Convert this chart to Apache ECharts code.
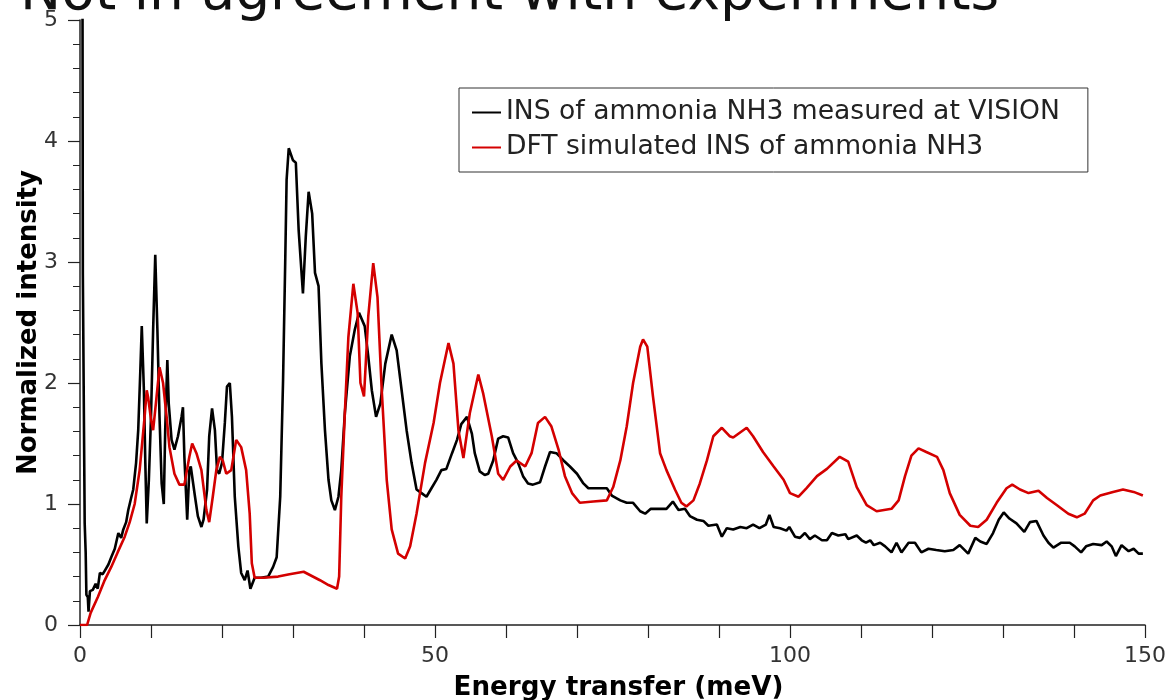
<!DOCTYPE html>
<html>
<head>
<meta charset="utf-8">
<script src="https://cdn.jsdelivr.net/npm/echarts@6/dist/echarts.min.js"></script>
<style>
html,body{margin:0;padding:0;background:#fff;}
#chart{width:1168px;height:700px;}
</style>
</head>
<body>
<div id="chart"></div>
<script>
const titleText = 'Not in agreement with experiments';
const xAxisName = 'Energy transfer (meV)';
const yAxisName = 'Normalized intensity';
const seriesNames = ['INS of ammonia NH3 measured at VISION', 'DFT simulated INS of ammonia NH3'];

const insEnergy = [0,0.35,0.4,0.6,0.66,0.8,0.9,1.1,1.2,1.4,1.8,2.2,2.5,2.8,3.2,3.5,4.0,4.4,4.9,5.4,5.8,6.1,6.5,6.8,7.2,7.5,7.9,8.2,8.5,8.7,9.0,9.2,9.4,9.7,10.0,10.3,10.6,10.9,11.2,11.5,11.8,12.0,12.3,12.5,12.9,13.3,13.8,14.3,14.5,14.7,15.1,15.4,15.6,16.2,16.6,17.1,17.4,17.9,18.2,18.6,19.0,19.3,19.6,20.0,20.4,20.7,21.1,21.4,21.8,22.3,22.7,23.2,23.6,24.0,24.6,25.5,26.5,27.2,27.7,28.2,28.6,28.9,29.1,29.4,30.0,30.4,30.8,31.4,31.8,32.2,32.7,33.1,33.6,34.0,34.5,35.0,35.4,35.9,36.4,36.8,37.3,38.0,38.7,39.3,40.1,40.6,41.1,41.7,42.3,43.0,43.9,44.6,45.3,46.0,46.7,47.4,48.1,48.8,49.5,50.2,50.9,51.6,52.4,53.1,53.7,54.5,55.2,55.6,56.3,57.0,57.5,58.2,58.9,59.6,60.3,61.0,61.7,62.4,63.1,63.8,64.8,65.5,66.2,67.1,68.1,69.0,70.0,70.9,71.6,72.8,74.2,74.9,76.1,77.0,77.9,78.9,79.6,80.4,81.7,82.6,83.5,84.3,85.2,85.9,86.9,87.8,88.5,89.7,90.4,91.1,92.0,93.0,93.9,94.8,95.7,96.6,97.1,97.7,98.6,99.5,99.9,100.7,101.4,102.1,102.8,103.5,104.5,105.2,105.9,106.8,107.8,108.2,109.4,110.1,110.7,111.3,111.8,112.7,113.4,114.3,115.0,115.7,116.7,117.6,118.5,119.5,120.6,121.8,123.0,123.9,125.1,126.1,126.8,127.7,128.6,129.4,130.1,130.9,131.9,133.0,133.8,134.7,135.7,136.4,137.1,138.2,139.4,140.1,141.0,141.7,142.7,143.9,144.6,145.3,145.9,146.7,147.7,148.4,149.1,149.7];
const insIntensity = [5.3,5.3,2.91,2.91,0.84,0.6,0.25,0.23,0.11,0.28,0.29,0.34,0.3,0.43,0.42,0.45,0.5,0.56,0.63,0.76,0.72,0.79,0.85,0.95,1.05,1.12,1.34,1.61,2.11,2.47,1.94,1.34,0.84,1.2,1.72,2.44,3.06,2.44,1.72,1.17,1.0,1.61,2.19,1.83,1.53,1.45,1.56,1.72,1.8,1.39,0.87,1.28,1.31,1.06,0.9,0.81,0.87,1.12,1.56,1.79,1.61,1.28,1.25,1.34,1.67,1.97,2.0,1.72,1.06,0.65,0.43,0.37,0.45,0.3,0.39,0.39,0.4,0.48,0.56,1.06,2.02,2.99,3.68,3.94,3.84,3.82,3.26,2.74,3.21,3.58,3.4,2.91,2.8,2.16,1.61,1.2,1.03,0.95,1.06,1.28,1.75,2.22,2.44,2.58,2.47,2.22,1.94,1.72,1.83,2.16,2.4,2.27,1.94,1.61,1.34,1.12,1.09,1.06,1.13,1.2,1.28,1.29,1.42,1.53,1.66,1.72,1.58,1.42,1.27,1.24,1.25,1.36,1.54,1.56,1.55,1.42,1.34,1.23,1.17,1.16,1.18,1.31,1.43,1.42,1.36,1.31,1.25,1.17,1.13,1.13,1.13,1.07,1.03,1.01,1.01,0.94,0.92,0.96,0.96,0.96,1.02,0.95,0.96,0.9,0.87,0.86,0.82,0.83,0.73,0.8,0.79,0.81,0.8,0.83,0.8,0.83,0.91,0.81,0.8,0.78,0.81,0.73,0.72,0.76,0.71,0.74,0.7,0.7,0.76,0.74,0.75,0.71,0.74,0.7,0.68,0.7,0.66,0.68,0.65,0.6,0.68,0.6,0.68,0.68,0.6,0.63,0.62,0.61,0.62,0.66,0.59,0.72,0.69,0.67,0.76,0.87,0.93,0.88,0.84,0.77,0.85,0.86,0.74,0.68,0.64,0.68,0.68,0.65,0.6,0.65,0.67,0.66,0.69,0.65,0.57,0.66,0.61,0.63,0.59,0.59];

const dftEnergy = [0,1.0,1.5,2.5,3.4,4.4,5.3,6.3,7.0,7.7,8.4,9.1,9.4,9.6,10.0,10.3,10.6,11.2,11.7,12.2,12.6,13.3,14.0,14.7,15.4,15.8,16.4,17.1,17.8,18.2,18.7,19.2,19.7,20.1,20.6,21.3,22.0,22.7,23.4,23.9,24.2,24.6,25.8,27.9,29.5,31.5,33.8,35.0,36.2,36.5,36.8,37.3,37.8,38.5,39.1,39.5,40.0,40.6,41.3,41.9,42.5,43.2,43.9,44.8,45.8,46.5,47.4,48.6,49.8,50.7,51.9,52.6,53.3,54.0,54.9,56.1,56.8,58.0,58.9,59.6,60.6,61.5,62.7,63.6,64.5,65.5,66.4,67.4,68.3,69.3,70.4,72.3,74.2,75.1,76.1,77.0,77.9,78.9,79.3,79.9,80.7,81.7,82.6,83.8,84.7,85.4,86.4,87.3,88.3,89.2,90.4,91.5,92.0,93.9,94.8,96.2,97.7,99.1,100.0,101.2,102.3,103.8,105.2,107.0,108.2,109.4,110.8,112.2,114.3,115.3,116.2,117.1,118.1,119.2,120.7,121.6,122.5,123.9,125.4,126.5,127.7,129.1,130.5,131.3,132.4,133.6,135.0,136.2,137.6,139.2,140.4,141.5,142.7,143.7,145.5,146.9,148.4,149.7];
const dftIntensity = [0,0,0.1,0.23,0.36,0.48,0.6,0.73,0.85,1.0,1.28,1.72,1.94,1.88,1.7,1.61,1.78,2.13,2.0,1.72,1.47,1.25,1.16,1.16,1.39,1.5,1.42,1.28,0.95,0.85,1.06,1.28,1.39,1.36,1.25,1.28,1.53,1.47,1.28,0.92,0.51,0.39,0.39,0.4,0.42,0.44,0.37,0.33,0.3,0.4,1.06,1.75,2.38,2.82,2.58,2.0,1.89,2.55,2.99,2.71,1.94,1.2,0.79,0.59,0.55,0.65,0.92,1.34,1.67,2.0,2.33,2.16,1.61,1.38,1.75,2.07,1.91,1.56,1.25,1.2,1.31,1.36,1.31,1.42,1.67,1.72,1.64,1.45,1.23,1.09,1.01,1.02,1.03,1.14,1.36,1.64,2.0,2.3,2.36,2.3,1.89,1.42,1.28,1.12,1.01,0.98,1.03,1.17,1.36,1.56,1.63,1.56,1.55,1.63,1.56,1.43,1.31,1.2,1.09,1.06,1.13,1.23,1.29,1.39,1.35,1.14,0.99,0.94,0.96,1.03,1.23,1.4,1.46,1.43,1.39,1.28,1.09,0.91,0.82,0.81,0.87,1.01,1.13,1.16,1.12,1.09,1.11,1.05,0.99,0.92,0.89,0.92,1.03,1.07,1.10,1.12,1.10,1.07];

const xTickLabels = [0, 50, 100, 150];

const insData = insEnergy.map((x, i) => [x, insIntensity[i]]);
const dftData = dftEnergy.map((x, i) => [x, dftIntensity[i]]);

const chart = echarts.init(document.getElementById('chart'), null, {renderer: 'canvas'});
const FONT = 'DejaVu Sans';
chart.setOption({
  animation: false,
  backgroundColor: '#ffffff',
  textStyle: {fontFamily: FONT},
  graphic: [{
    type: 'text',
    left: 20,
    top: -33,
    style: {text: titleText, fontSize: 55, fontFamily: FONT, fill: '#111'}
  }],
  grid: {left: 80, right: 23, top: 20, bottom: 75, containLabel: false, outerBoundsMode: 'none'},
  legend: {
    orient: 'vertical',
    left: 459,
    top: 88,
    padding: [11, 28, 11, 13],
    itemGap: 8,
    itemWidth: 29,
    itemHeight: 2,
    itemTextGap: 9,
    itemStyle: {borderWidth: 0},
    icon: 'rect',
    borderColor: '#333',
    borderWidth: 1,
    textStyle: {fontSize: 26.6, color: '#222', fontFamily: FONT},
    data: seriesNames
  },
  xAxis: {
    type: 'value',
    min: 0, max: 150, interval: 10,
    name: xAxisName,
    nameLocation: 'middle',
    nameGap: 50,
    nameMoveOverlap: false,
    nameTextStyle: {fontSize: 26.2, fontWeight: 'bold', color: '#000', fontFamily: FONT, padding: [0, 0, 0, 12]},
    axisLine: {show: true, lineStyle: {color: '#222', width: 1.5}},
    axisTick: {show: true, length: 13, inside: false, lineStyle: {color: '#222', width: 1.2}},
    axisLabel: {
      fontSize: 22, color: '#333', margin: 20, fontFamily: FONT,
      formatter: function (v) { return xTickLabels.indexOf(v) >= 0 ? String(v) : ''; }
    },
    splitLine: {show: false}
  },
  yAxis: {
    type: 'value',
    min: 0, max: 5, interval: 1,
    name: yAxisName,
    nameLocation: 'middle',
    nameGap: 38,
    nameMoveOverlap: false,
    nameTextStyle: {fontSize: 26, fontWeight: 'bold', color: '#000', fontFamily: FONT},
    axisLine: {show: true, lineStyle: {color: '#222', width: 1.5}},
    axisTick: {show: true, length: 12, lineStyle: {color: '#222', width: 1.2}},
    minorTick: {show: true, splitNumber: 5, length: 7, lineStyle: {color: '#222', width: 1}},
    axisLabel: {fontSize: 22, color: '#333', margin: 22, fontFamily: FONT},
    splitLine: {show: false}
  },
  series: [
    {
      name: seriesNames[0], type: 'line', data: insData,
      showSymbol: false, symbol: 'none', clip: true,
      lineStyle: {color: '#000000', width: 2.6},
      itemStyle: {color: '#000000'}
    },
    {
      name: seriesNames[1], type: 'line', data: dftData,
      showSymbol: false, symbol: 'none', clip: true,
      lineStyle: {color: '#d40000', width: 2.6},
      itemStyle: {color: '#d40000'}
    }
  ]
});
</script>
</body>
</html>
